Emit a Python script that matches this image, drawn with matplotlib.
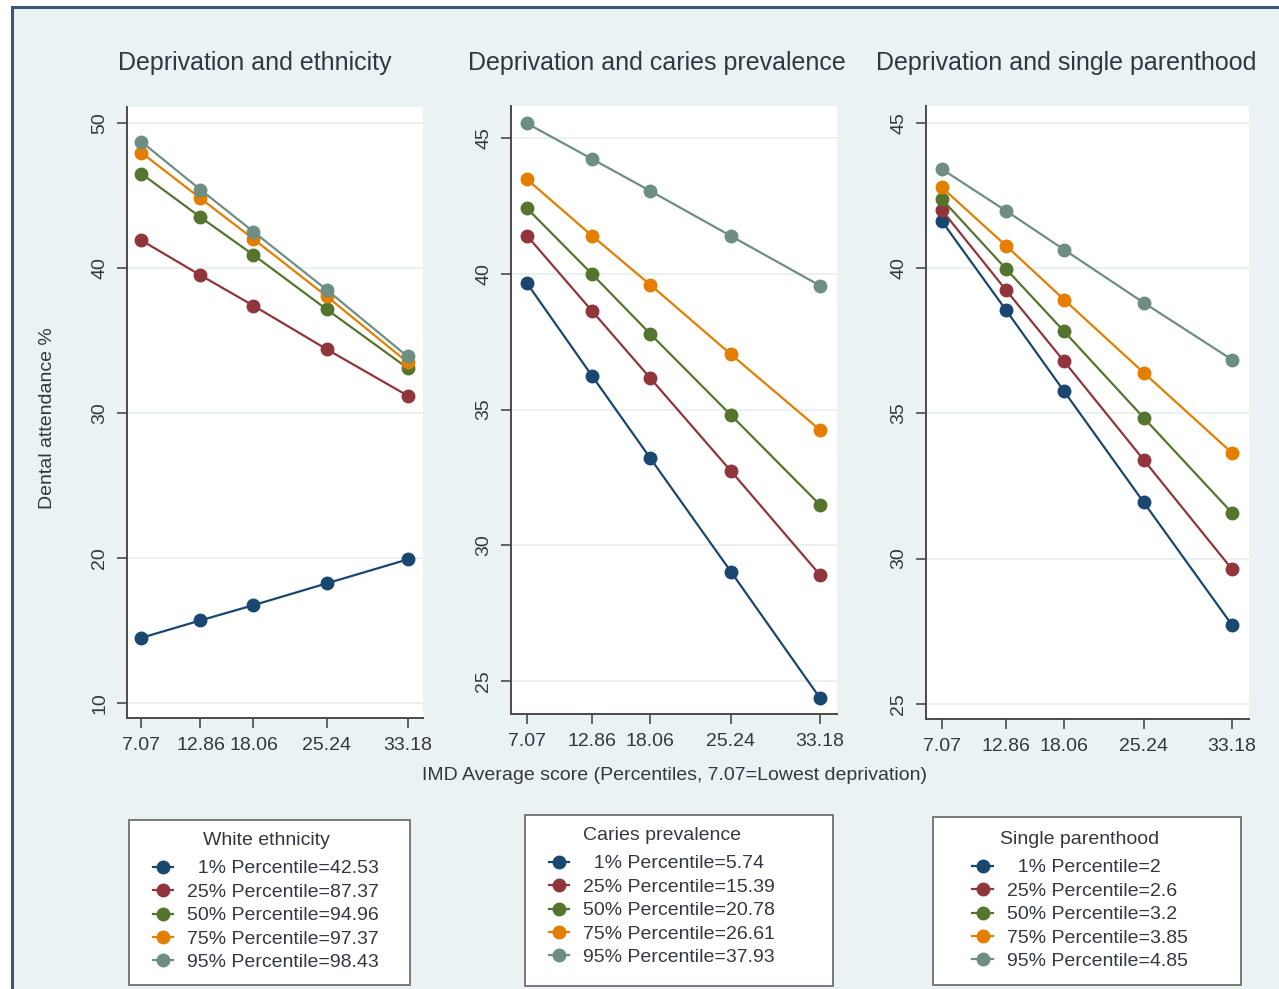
import matplotlib
matplotlib.use('Agg')
import matplotlib.pyplot as plt
from matplotlib.patches import Rectangle

plt.rcParams['font.family'] = ['Liberation Sans', 'DejaVu Sans']

# IMD average score percentiles (x axis)
imd = [7.07, 12.86, 18.06, 25.24, 33.18]
imd_labels = ['7.07', '12.86', '18.06', '25.24', '33.18']

percentiles = ['1%', '25%', '50%', '75%', '95%']

# Deprivation and ethnicity
eth_cut = ['42.53', '87.37', '94.96', '97.37', '98.43']
eth_values = [
    [14.5, 15.7, 16.75, 18.25, 19.9],
    [41.9, 39.5, 37.4, 34.4, 31.2],
    [46.5, 43.5, 40.9, 37.15, 33.1],
    [47.95, 44.8, 42.0, 38.05, 33.5],
    [48.7, 45.4, 42.5, 38.5, 33.9],
]

# Deprivation and caries prevalence
car_cut = ['5.74', '15.39', '20.78', '26.61', '37.93']
car_values = [
    [39.66, 36.25, 33.21, 29.03, 24.37],
    [41.41, 38.64, 36.16, 32.74, 28.91],
    [42.42, 40.0, 37.79, 34.8, 31.49],
    [43.49, 41.41, 39.6, 37.04, 34.25],
    [45.55, 44.24, 43.06, 41.4, 39.57],
]

# Deprivation and single parenthood
sp_cut = ['2', '2.6', '3.2', '3.85', '4.85']
sp_values = [
    [41.61, 38.54, 35.76, 31.93, 27.71],
    [41.99, 39.23, 36.79, 33.39, 29.63],
    [42.37, 39.96, 37.82, 34.84, 31.57],
    [42.77, 40.76, 38.91, 36.39, 33.63],
    [43.4, 41.96, 40.63, 38.8, 36.84],
]

colors = ['#1a476f', '#90353b', '#55752f', '#e37e00', '#6e8e84']
bg = '#eaf2f3'
txt = '#333840'

W, H = 1279, 989
fig = plt.figure(figsize=(W / 100, H / 100), dpi=100, facecolor='white')
fig.patches.append(Rectangle((12 / W, -0.05), 1.1, 1 - 7 / H + 0.05, transform=fig.transFigure,
                             facecolor=bg, edgecolor='#3b5878', linewidth=2.2, zorder=-10))


def px_axes(x0, y0, x1, y1):
    return fig.add_axes([x0 / W, 1 - y1 / H, (x1 - x0) / W, (y1 - y0) / H])


def px_box(x0, y0, x1, y1):
    r = Rectangle((x0 / W, 1 - y1 / H), (x1 - x0) / W, (y1 - y0) / H, transform=fig.transFigure,
                  facecolor='white', edgecolor='#6f6f6f', linewidth=1.3, zorder=-5)
    fig.patches.append(r)


panels = [
    dict(box=(127, 107, 423, 718), data=eth_values, cut=eth_cut, ylim=(8.97, 51.1),
         yticks=[10, 20, 30, 40, 50], title='Deprivation and ethnicity', tx=255,
         leg='White ethnicity', lbox=(129, 820, 410, 985), lx=266, ly=823),
    dict(box=(511, 106, 837, 714), data=car_values, cut=car_cut, ylim=(23.78, 46.19),
         yticks=[25, 30, 35, 40, 45], title='Deprivation and caries prevalence', tx=657,
         leg='Caries prevalence', lbox=(525, 815, 833, 986), lx=662, ly=818),
    dict(box=(926, 106, 1249, 719), data=sp_values, cut=sp_cut, ylim=(24.48, 45.57),
         yticks=[25, 30, 35, 40, 45], title='Deprivation and single parenthood', tx=1066,
         leg='Single parenthood', lbox=(933, 817, 1241, 985), lx=1080, ly=822),
]

for p in panels:
    ax = px_axes(*p['box'])
    ax.set_facecolor('white')
    handles = []
    for vals, c in zip(p['data'], colors):
        h, = ax.plot(imd, vals, '-o', color=c, lw=1.6, markersize=9, zorder=3)
        handles.append(h)
    ax.set_xlim(5.65, 34.7)
    ax.set_ylim(*p['ylim'])
    ax.set_xticks(imd)
    ax.set_xticklabels(imd_labels)
    ax.set_yticks(p['yticks'])
    ax.grid(axis='y', color='#e9efef', lw=1.3, zorder=0)
    for s in ['top', 'right']:
        ax.spines[s].set_visible(False)
    for s in ['left', 'bottom']:
        ax.spines[s].set_color('#4a4a4a')
        ax.spines[s].set_linewidth(1.4)
    ax.tick_params(axis='both', labelsize=14, labelcolor=txt, color='#4a4a4a',
                   length=7.5, width=1.2, pad=6)
    ax.tick_params(axis='y', labelrotation=90)
    for t in ax.get_yticklabels():
        t.set_va('center')

    fig.text(p['tx'] / W, 1 - 63 / H, p['title'], ha='center', va='center',
             fontsize=18, color=txt)

    # pad the 1% label so the percent signs line up like the original
    labels = []
    for pc, cut in zip(percentiles, p['cut']):
        lab = f'{pc} Percentile={cut}'
        if len(pc) == 2:
            lab = '  ' + lab
        labels.append(lab)
    px_box(*p['lbox'])
    leg = fig.legend(handles, labels, title=p['leg'], loc='upper center',
                     bbox_to_anchor=(p['lx'] / W, 1 - p['ly'] / H), borderaxespad=0,
                     fontsize=14, title_fontsize=14, frameon=False, labelspacing=0.3,
                     handlelength=1.05, handletextpad=0.7, borderpad=0.45, labelcolor=txt)
    leg.get_title().set_color(txt)
    # extra gap between the legend title and its entries
    leg._legend_box.sep = 8

fig.text(48 / W, 1 - 418 / H, 'Dental attendance %', rotation=90, ha='center', va='center',
         fontsize=14, color=txt)
fig.text(675 / W, 1 - 775 / H, 'IMD Average score (Percentiles, 7.07=Lowest deprivation)',
         ha='center', va='center', fontsize=14, color=txt)

plt.savefig('out.png', dpi=100, facecolor=fig.get_facecolor())
